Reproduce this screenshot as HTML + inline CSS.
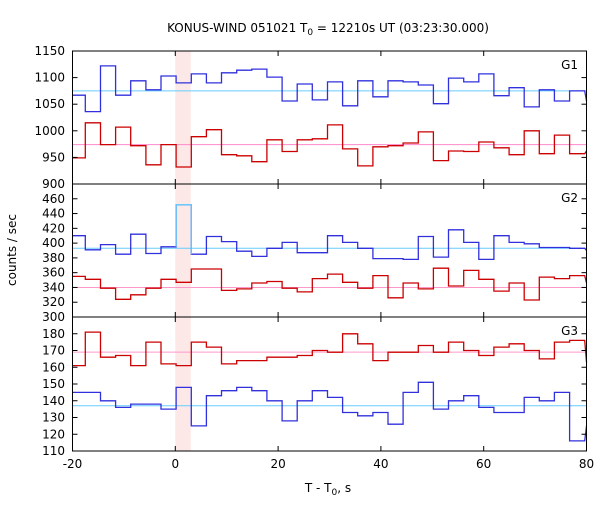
<!DOCTYPE html>
<html><head><meta charset="utf-8"><style>
html,body{margin:0;padding:0;background:#fff;}
svg text{font-family:"DejaVu Sans","Liberation Sans",sans-serif;font-size:12px;fill:#000;}
</style></head><body>
<svg id="chart" width="600" height="500" viewBox="0 0 600 500" xmlns="http://www.w3.org/2000/svg">
<text x="328" y="32" text-anchor="middle">KONUS-WIND 051021 T<tspan font-size="9" dy="3">0</tspan><tspan dy="-3"> = 12210s UT (03:23:30.000)</tspan></text>
<text transform="translate(16,250) rotate(-90)" text-anchor="middle">counts / sec</text>
<text x="328" y="492" text-anchor="middle">T - T<tspan font-size="9" dy="3">0</tspan><tspan dy="-3">, s</tspan></text>
<g id="plots"></g>
</svg>
<script>
// x-axis data
const xTicks = [-20, 0, 20, 40, 60, 80];
const binStart = -17.5;
const binWidth = 2.944;
const highlightRange = [0, 3];
// G1
const g1Ticks = [900, 950, 1000, 1050, 1100, 1150];
const g1Blue = [1067,1036,1122,1067,1094,1077,1103,1090,1107,1090,1109,1114,1116,1101,1056,1088,1058,1092,1047,1094,1064,1094,1092,1086,1051,1099,1092,1107,1066,1081,1045,1077,1056,1075,1056];
const g1Red = [949,1015,974,1007,972,936,974,932,989,1002,955,953,942,983,961,983,985,1011,966,934,970,972,977,998,944,962,961,979,968,955,1000,957,992,957,962];
const g1BlueMean = 1075;
const g1RedMean = 974;
// G2
const g2Ticks = [300, 320, 340, 360, 380, 400, 420, 440, 460];
const g2Blue = [410,391,398,385,412,386,395,452,385,409,402,389,382,393,401,387,387,410,401,393,379,379,378,409,381,418,401,378,410,401,399,394,394,393,390];
const g2Red = [355,351,339,324,330,339,351,347,365,365,336,338,346,348,339,334,352,358,347,339,356,326,346,338,366,342,363,351,335,346,323,354,352,356,346];
const g2BlueMean = 393;
const g2RedMean = 340;
// G3
const g3Ticks = [110, 120, 130, 140, 150, 160, 170, 180];
const g3Red = [161,181,166,167,161,175,162,161,175,172,162,164,164,166,166,167,170,169,180,174,164,169,169,173,169,175,170,167,172,174,170,165,175,176,163];
const g3Blue = [145,145,140,136,138,138,135,148,125,143,146,148,146,140,128,140,146,142,133,131,133,126,145,151,135,140,143,136,133,133,142,140,145,116,125];
const g3BlueMean = 137;
const g3RedMean = 169;

const NS = "http://www.w3.org/2000/svg";
const X0 = 72.5, X1 = 586.5, XMIN = -20, XMAX = 80;
function xs(v){ return X0 + (v - XMIN) / (XMAX - XMIN) * (X1 - X0); }
function mk(tag, attrs, parent){
  const e = document.createElementNS(NS, tag);
  for (const k in attrs) e.setAttribute(k, attrs[k]);
  parent.appendChild(e); return e;
}
const root = document.getElementById('plots');

const panels = [
  {name:'g1', top:51, bot:184, min:900, max:1150, ticks:g1Ticks, label:'G1', series:[[g1Blue,'#3030dd',g1BlueMean,'#66ccff'],[g1Red,'#cc0000',g1RedMean,'#ff88cc']], spike:-1},
  {name:'g2', top:184, bot:317, min:300, max:480, ticks:g2Ticks, label:'G2', series:[[g2Blue,'#3030dd',g2BlueMean,'#66ccff'],[g2Red,'#cc0000',g2RedMean,'#ff99cc']], spike:7},
  {name:'g3', top:317, bot:451, min:110, max:190, ticks:g3Ticks, label:'G3', series:[[g3Red,'#cc0000',g3RedMean,'#ff99cc'],[g3Blue,'#3030dd',g3BlueMean,'#66ccff']], spike:-1}
];

function edge(i){ return i === 0 ? XMIN : Math.min(XMAX, binStart + (i-1)*binWidth); }

panels.forEach((p, pi) => {
  const g = mk('g', {}, root);
  
  
  const ys = v => p.bot - (v - p.min) / (p.max - p.min) * (p.bot - p.top);
  const hl = mk('rect', {x:xs(highlightRange[0]), y:p.top, width:xs(highlightRange[1])-xs(highlightRange[0]), height:p.bot-p.top, fill:'#fde8e8'}, g);
  
  
  p.series.forEach((s, si) => {
    const [vals, col, mean, mcol] = s;
    const ml = mk('line', {x1:X0, x2:X1, y1:ys(mean), y2:ys(mean), stroke:mcol, 'stroke-width':1}, g);
    
    
    const n = vals.length - 1; // last value is tail after last bin
    let d = '';
    for (let i = 0; i < n; i++){
      const xa = xs(edge(i)), xb = xs(edge(i+1)), y = ys(vals[i]);
      d += (i === 0 ? 'M' : 'L') + xa.toFixed(1) + ',' + y.toFixed(1) + 'L' + xb.toFixed(1) + ',' + y.toFixed(1);
    }
    d += 'L' + X1 + ',' + ys(vals[n]).toFixed(1);
    const path = mk('path', {d:d, fill:'none', stroke:col, 'stroke-width':1.3}, g);
    
    
    if (si === 0 && p.spike >= 0){
      const i = p.spike;
      const xa = xs(edge(i)), xb = xs(edge(i+1));
      const sd = 'M' + xa + ',' + ys(vals[i-1]) + 'L' + xa + ',' + ys(vals[i]) + 'L' + xb + ',' + ys(vals[i]) + 'L' + xb + ',' + ys(vals[i+1]);
      const sp = mk('path', {d:sd, fill:'none', stroke:'#66ccff', 'stroke-width':1.3}, g);
      
      
    }
  });
  const fr = mk('rect', {x:X0, y:p.top, width:X1-X0, height:p.bot-p.top, fill:'none', stroke:'#000', 'stroke-width':1}, g);
  
  
  p.ticks.forEach(t => {
    const y = ys(t);
    mk('line', {x1:X0, x2:X0+5, y1:y, y2:y, stroke:'#000'}, g);
    mk('line', {x1:X1-5, x2:X1, y1:y, y2:y, stroke:'#000'}, g);
    const tl = mk('text', {x:65, y:y+4, 'text-anchor':'end'}, g);
    tl.textContent = t;
    
    
  });
  xTicks.forEach(t => {
    const x = xs(t);
    mk('line', {x1:x, x2:x, y1:p.top, y2:p.top+5, stroke:'#000'}, g);
    mk('line', {x1:x, x2:x, y1:p.bot-5, y2:p.bot, stroke:'#000'}, g);
  });
  const lb = mk('text', {x:578, y:p.top+18, 'text-anchor':'end'}, g);
  lb.textContent = p.label;
  
  
});
xTicks.forEach(t => {
  const tl = mk('text', {x:xs(t), y:468, 'text-anchor':'middle'}, root);
  tl.textContent = t;
  
  
});
</script>
</body></html>
